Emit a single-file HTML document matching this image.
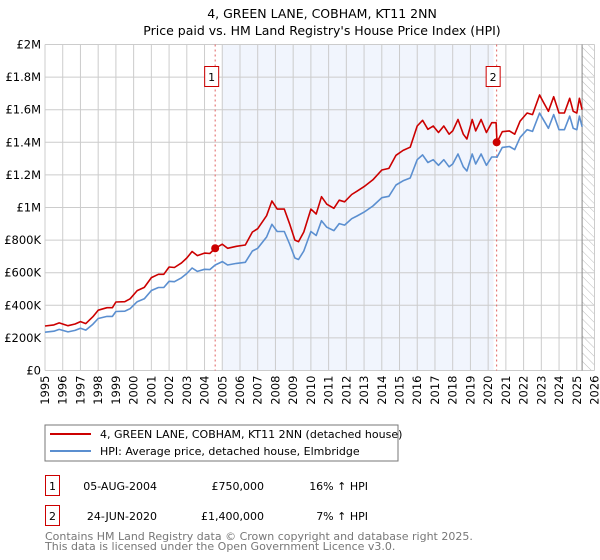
<!DOCTYPE html>
<html><head><meta charset="utf-8"><style>
body{margin:0;background:#fff;}
svg{display:block;font-family:"DejaVu Sans","Liberation Sans",sans-serif;}
</style></head><body>
<svg id="chart" width="600" height="560" viewBox="0 0 600 560">
<text x="322" y="18" text-anchor="middle" font-size="12.5" fill="#000">4, GREEN LANE, COBHAM, KT11 2NN</text>
<text x="322" y="35" text-anchor="middle" font-size="12.5" fill="#000">Price paid vs. HM Land Registry's House Price Index (HPI)</text>
<defs><pattern id="hatch" width="6" height="6" patternUnits="userSpaceOnUse" patternTransform="rotate(-45)"><line x1="0" y1="0" x2="0" y2="6" stroke="#bbb" stroke-width="1"/></pattern></defs>
<g id="plot"></g>
<rect x="45" y="425" width="353" height="36" fill="#fff" stroke="#777"/>
<line x1="50" y1="434" x2="91" y2="434" stroke="#cc0000" stroke-width="2"/>
<text x="100" y="438" font-size="11">4, GREEN LANE, COBHAM, KT11 2NN (detached house)</text>
<line x1="50" y1="451" x2="91" y2="451" stroke="#5b8fd0" stroke-width="2"/>
<text x="100" y="455" font-size="11">HPI: Average price, detached house, Elmbridge</text>
<g>
<rect x="45.5" y="475.5" width="14" height="20" fill="#fff" stroke="#cc0000"/>
<text x="52.5" y="490" text-anchor="middle" font-size="11">1</text>
<text x="157" y="490" text-anchor="end" font-size="11">05-AUG-2004</text>
<text x="264" y="490" text-anchor="end" font-size="11">£750,000</text>
<text x="368" y="490" text-anchor="end" font-size="11">16% ↑ HPI</text></g>
<g>
<rect x="45.5" y="505.5" width="14" height="20" fill="#fff" stroke="#cc0000"/>
<text x="52.5" y="520" text-anchor="middle" font-size="11">2</text>
<text x="157" y="520" text-anchor="end" font-size="11">24-JUN-2020</text>
<text x="264" y="520" text-anchor="end" font-size="11">£1,400,000</text>
<text x="368" y="520" text-anchor="end" font-size="11">7% ↑ HPI</text></g>
<text x="45" y="540" font-size="11" fill="#777">Contains HM Land Registry data © Crown copyright and database right 2025.</text>
<text x="45" y="550" font-size="11" fill="#777">This data is licensed under the Open Government Licence v3.0.</text>
</svg>
<script>
const years=[1995,1996,1997,1998,1999,2000,2001,2002,2003,2004,2005,2006,2007,2008,2009,2010,2011,2012,2013,2014,2015,2016,2017,2018,2019,2020,2021,2022,2023,2024,2025,2026];
const yTicks=[0,200000,400000,600000,800000,1000000,1200000,1400000,1600000,1800000,2000000];
const yTickLabels=["£0","£200K","£400K","£600K","£800K","£1M","£1.2M","£1.4M","£1.6M","£1.8M","£2M"];
const times=[1995.0,1995.5,1995.8,1996.3,1996.7,1997.0,1997.3,1997.7,1998.0,1998.5,1998.8,1999.0,1999.5,1999.8,2000.2,2000.6,2001.0,2001.4,2001.7,2002.0,2002.3,2002.7,2003.0,2003.3,2003.6,2004.0,2004.3,2004.6,2005.0,2005.3,2005.8,2006.3,2006.7,2007.0,2007.5,2007.8,2008.1,2008.5,2008.8,2009.1,2009.3,2009.6,2010.0,2010.3,2010.6,2010.9,2011.3,2011.6,2011.9,2012.3,2012.6,2013.0,2013.5,2014.0,2014.4,2014.8,2015.2,2015.6,2016.0,2016.3,2016.6,2016.9,2017.2,2017.5,2017.8,2018.0,2018.3,2018.6,2018.8,2019.1,2019.3,2019.6,2019.9,2020.2,2020.45,2020.5,2020.8,2021.2,2021.5,2021.8,2022.2,2022.5,2022.9,2023.1,2023.4,2023.7,2024.0,2024.3,2024.6,2024.8,2025.0,2025.15,2025.3];
const priceK=[273,280,292,275,285,300,288,330,370,385,385,420,422,440,490,510,570,590,590,635,632,660,690,730,705,720,718,750,775,750,762,770,850,870,950,1040,990,990,900,800,790,850,990,960,1066,1020,995,1045,1035,1080,1100,1128,1170,1230,1240,1320,1350,1370,1500,1535,1480,1500,1460,1500,1450,1470,1540,1450,1420,1540,1470,1540,1460,1520,1520,1400,1465,1470,1450,1530,1580,1570,1690,1650,1590,1680,1580,1580,1670,1590,1580,1670,1600];
const hpiK=[235,241,252,237,246,259,248,284,319,332,332,362,364,379,422,440,491,509,509,547,545,569,595,629,608,621,619,647,668,647,657,664,733,750,819,897,853,853,776,690,681,733,853,828,919,879,858,901,892,931,948,972,1009,1060,1069,1138,1164,1181,1293,1323,1276,1293,1259,1293,1250,1267,1328,1250,1224,1328,1267,1328,1259,1310,1310,1308,1369,1374,1355,1430,1477,1467,1579,1542,1486,1570,1477,1477,1561,1486,1477,1561,1495];
const saleTimes=[2004.6,2020.48];
const salePrices=[750000,1400000];
const saleLabels=["1","2"];

const X0=45,X1=594.5,Y0=370.5,Y1=44.5;
const xs=t=>X0+(t-1995)/(2026-1995)*(X1-X0);
const ys=v=>Y0-v/2000000*(Y0-Y1);
const NS="http://www.w3.org/2000/svg";
const g=document.getElementById('plot');
function mk(tag,attrs,parent){const e=document.createElementNS(NS,tag);for(const k in attrs)e.setAttribute(k,attrs[k]);(parent||g).appendChild(e);return e;}

const shade=mk('rect',{x:xs(2005),y:Y1,width:xs(2020.3)-xs(2005),height:Y0-Y1,fill:'#eef3fd',opacity:0.8});


const hatch=mk('rect',{x:xs(2025.3),y:Y1,width:X1-xs(2025.3),height:Y0-Y1,fill:'url(#hatch)'});



years.forEach(y=>{
 const l=mk('line',{x1:xs(y),x2:xs(y),y1:Y1,y2:Y0,stroke:'#ccc','stroke-width':1});
 
 
 const t=mk('text',{x:0,y:0,'font-size':11.5,'text-anchor':'end',transform:`translate(${xs(y)+4},${Y0+5}) rotate(-90)`});
 t.textContent=y;
 
 
});
yTicks.forEach((v,i)=>{
 const l=mk('line',{x1:X0,x2:X1,y1:ys(v),y2:ys(v),stroke:'#ccc','stroke-width':1});
 
 
 const t=mk('text',{x:X0-4,y:ys(v)+4,'font-size':11.5,'text-anchor':'end'});
 t.textContent=yTickLabels[i];
 
 
});
const nowLine=mk('line',{x1:xs(2025.3),x2:xs(2025.3),y1:Y1,y2:Y0,stroke:'#888','stroke-width':1});



saleTimes.forEach((t,i)=>{
 const l=mk('line',{x1:xs(t),x2:xs(t),y1:Y1,y2:Y0,stroke:'#e06060','stroke-width':1,'stroke-dasharray':'2,3'});
 
 
 const b=mk('rect',{x:xs(t)-10.5,y:66.5,width:14,height:20,fill:'#fff',stroke:'#cc0000'});
 
 
 const tx=mk('text',{x:xs(t)-3.5,y:81,'font-size':11,'text-anchor':'middle'});
 tx.textContent=saleLabels[i];
 
 
});

function path(vals,color,name){
 const d=times.map((t,i)=>(i?'L':'M')+xs(t).toFixed(1)+','+ys(vals[i]*1000).toFixed(1)).join('');
 const p=mk('path',{d:d,fill:'none',stroke:color,'stroke-width':1.6,'stroke-linejoin':'round'});
 
 
}
path(hpiK,'#5b8fd0','hpi-line');
path(priceK,'#cc0000','property-price-line');
saleTimes.forEach((t,i)=>{
 const c=mk('circle',{cx:xs(t),cy:ys(salePrices[i]),r:4,fill:'#cc0000'});
 
 
});
</script>
</body></html>
